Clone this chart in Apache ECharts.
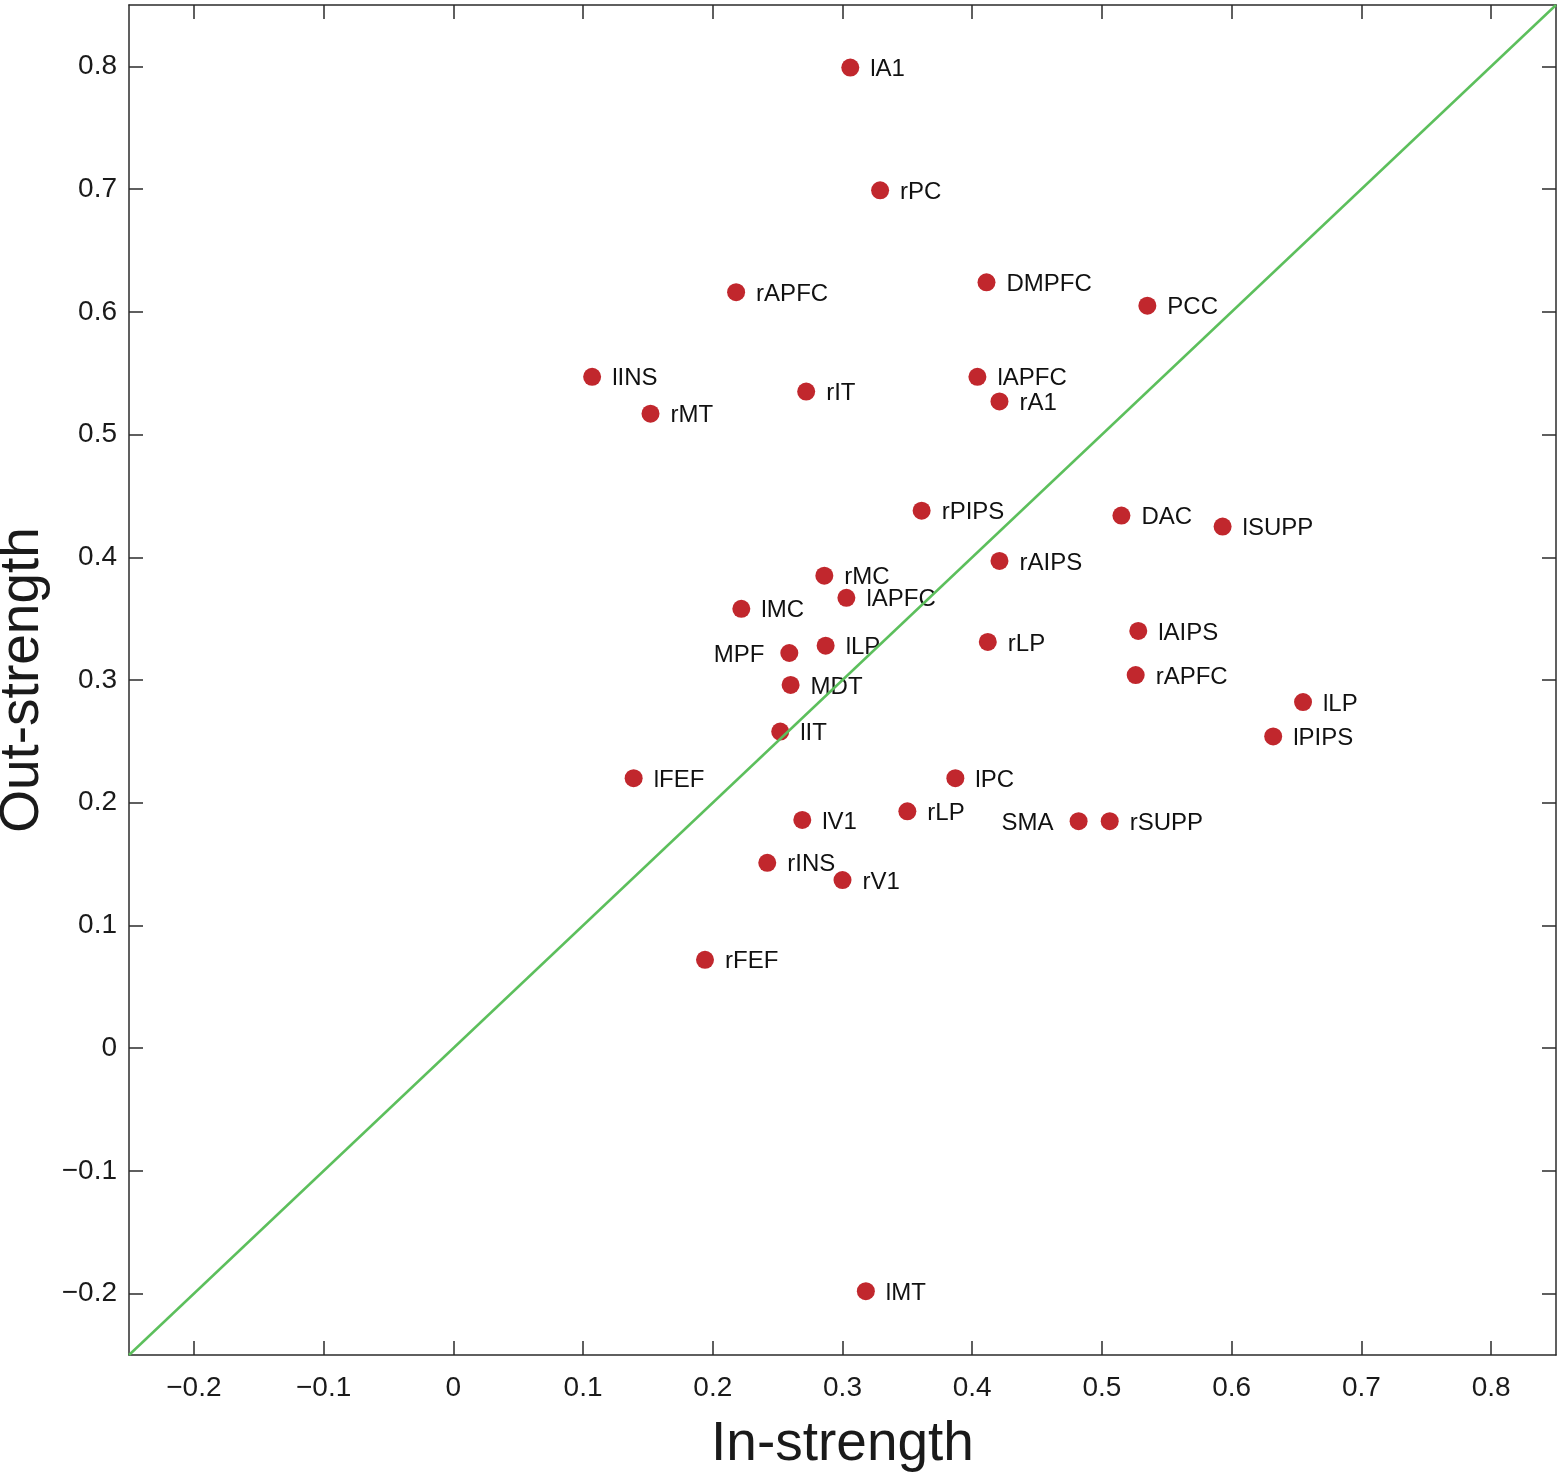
<!DOCTYPE html>
<html><head><meta charset="utf-8">
<script src="https://cdn.jsdelivr.net/npm/echarts@6/dist/echarts.min.js"></script>
<style>html,body{margin:0;padding:0;background:#fff}#c{width:1560px;height:1477px}</style>
</head><body><div id="c"></div>
<script>
const regions = ['lA1','rPC','rAPFC','DMPFC','PCC','lINS','rIT','lAPFC','rA1','rMT','rPIPS','DAC','lSUPP','rAIPS','rMC','lAPFC','lMC','lAIPS','lLP','rLP','MPF','rAPFC','MDT','lLP','lIT','lPIPS','lFEF','lPC','rLP','lV1','SMA','rSUPP','rINS','rV1','rFEF','lMT'];
const inStrength  = [0.306,0.329,0.218,0.411,0.535,0.107,0.272,0.404,0.421,0.152,0.361,0.515,0.593,0.421,0.286,0.303,0.222,0.528,0.287,0.412,0.259,0.526,0.260,0.655,0.252,0.632,0.139,0.387,0.350,0.269,0.482,0.506,0.242,0.300,0.194,0.318];
const outStrength = [0.799,0.699,0.616,0.624,0.605,0.547,0.535,0.547,0.527,0.517,0.438,0.434,0.425,0.397,0.385,0.367,0.358,0.340,0.328,0.331,0.322,0.304,0.296,0.282,0.258,0.254,0.220,0.220,0.193,0.186,0.185,0.185,0.151,0.137,0.072,-0.198];
const xTicks = [-0.2,-0.1,0,0.1,0.2,0.3,0.4,0.5,0.6,0.7,0.8];
const yTicks = [-0.2,-0.1,0,0.1,0.2,0.3,0.4,0.5,0.6,0.7,0.8];
const identityLine = [[-0.25,-0.25],[0.85,0.85]];
const leftLabeled = ['MPF','SMA'];

const font = 'Liberation Sans, Arial, sans-serif';
const fmt = v => (Math.abs(v) < 1e-9 ? '0' : String(+v.toFixed(1)).replace('-', '\u2212'));
const axisLine = {show:true, onZero:false, lineStyle:{color:'#2b2b2b', width:1.5}};
function mkAxis(ticks, show, pos, extra){
  return Object.assign({
    type:'value', min:-0.25, max:0.85, position:pos,
    axisLine:axisLine, splitLine:{show:false},
    axisTick:{show:true, inside:true, length:14, customValues:ticks, lineStyle:{color:'#2b2b2b', width:1.5}},
    axisLabel:{show:show, customValues:ticks, formatter:fmt, fontSize:28, color:'#1a1a1a', fontFamily:font}
  }, extra||{});
}
const chart = echarts.init(document.getElementById('c'));
chart.setOption({
  animation:false,
  backgroundColor:'#fff',
  grid:{left:129, right:4, top:5, bottom:122, containLabel:false, outerBoundsMode:'none'},
  xAxis:[
    mkAxis(xTicks, true, 'bottom', {name:'In-strength', nameLocation:'middle', nameGap:62,
      nameTextStyle:{fontSize:55, color:'#1a1a1a', fontFamily:font},
      axisLabel:{show:true, customValues:xTicks, formatter:fmt, fontSize:28, color:'#1a1a1a', fontFamily:font, margin:19}}),
    mkAxis(xTicks, false, 'top')
  ],
  yAxis:[
    mkAxis(yTicks, true, 'left', {name:'Out-strength', nameLocation:'middle', nameGap:74,
      nameTextStyle:{fontSize:55, color:'#1a1a1a', fontFamily:font},
      axisLabel:{show:true, customValues:yTicks, formatter:fmt, fontSize:28, color:'#1a1a1a', fontFamily:font, margin:12}}),
    mkAxis(yTicks, false, 'right')
  ],
  series:[
    {
      type:'scatter', z:2, symbol:'circle', symbolSize:18,
      itemStyle:{color:'#C1272D', opacity:1},
      data: regions.map((n,i)=>({
        name:n, value:[inStrength[i], outStrength[i]],
        label:{position: leftLabeled.includes(n) ? 'left' : 'right', distance: leftLabeled.includes(n) ? 16 : 11}
      })),
      label:{show:true, formatter:p=>p.name, fontSize:24, color:'#111', fontFamily:font, opacity:1, offset:[0,2]}
    },
    {
      type:'line', z:5, data:identityLine, symbol:'none', silent:true,
      lineStyle:{color:'#5CBF5C', width:2.5}
    }
  ]
});
</script></body></html>
